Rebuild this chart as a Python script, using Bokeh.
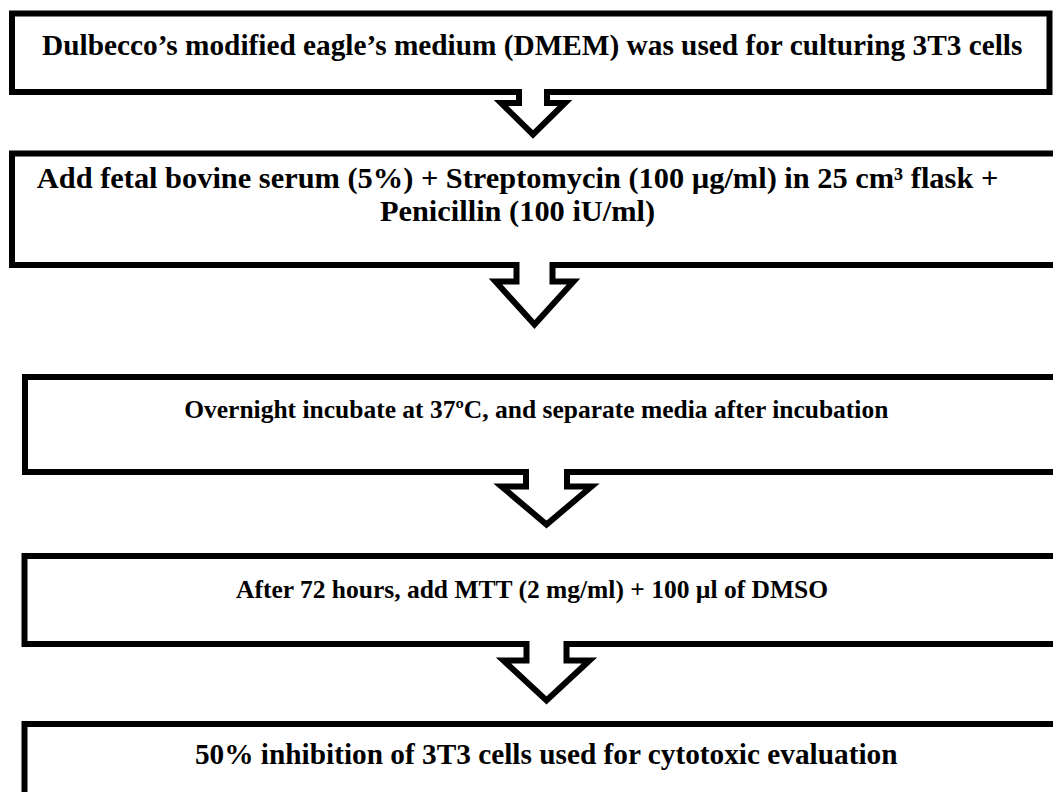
from bokeh.plotting import figure
from bokeh.models import Range1d
from bokeh.core.properties import value
from bokeh.embed import file_html
from bokeh.resources import INLINE

# ---- content ----
steps = [
    ["Dulbecco’s modified eagle’s medium (DMEM) was used for culturing 3T3 cells"],
    ["Add fetal bovine serum (5%) + Streptomycin (100 µg/ml) in 25 cm³ flask +",
     "Penicillin (100 iU/ml)"],
    ["Overnight incubate at 37ºC, and separate media after incubation"],
    ["After 72 hours, add MTT (2 mg/ml) + 100 µl of DMSO"],
    ["50% inhibition of 3T3 cells used for cytotoxic evaluation"],
]

# ---- layout (image-pixel coordinates) ----
box_left = [11.5, 11.5, 24.5, 24.0, 24.0]
box_right = [1049, 1300, 1300, 1300, 1300]
box_top = [13.0, 153.0, 376.5, 555.5, 723.5]
box_bottom = [91.5, 264.5, 471.5, 643.5, 1000]
text_x = [532, 517, 536, 532, 546]
text_y = [[44], [177, 210], [408.5], [588.5], [753]]
text_size = ["29.3px", "30.4px", "25.5px", "25.5px", "29.3px"]

arrow_cx = [532.5, 534.0, 546.0, 546.0]
arrow_sw = [14.0, 18.0, 20.5, 20.0]
arrow_sy = [102.5, 281.0, 486.0, 660.0]
arrow_hw = [32.0, 39.0, 45.0, 43.0]
arrow_ty = [134.0, 324.0, 524.0, 700.0]

FONT = value("'Liberation Serif', 'Times New Roman', 'DejaVu Serif', serif")

W, H = 1053, 792
p = figure(width=W, height=H, output_backend="svg", toolbar_location=None,
           x_range=Range1d(0, W), y_range=Range1d(H, 0),
           min_border=0, outline_line_color=None)
p.axis.visible = False
p.grid.visible = False
p.background_fill_color = "white"
p.border_fill_color = "white"

for i in range(len(steps)):
    L, R, T, B = box_left[i], box_right[i], box_top[i], box_bottom[i]
    if i < len(arrow_cx):
        cx, sw, sy, hw, ty = arrow_cx[i], arrow_sw[i], arrow_sy[i], arrow_hw[i], arrow_ty[i]
        xs = [L, L, R, R, cx + sw, cx + sw, cx + hw, cx, cx - hw, cx - sw, cx - sw]
        ys = [B, T, T, B, B, sy, sy, ty, sy, sy, B]
    else:
        xs = [L, L, R, R]
        ys = [B, T, T, B]
    p.patch(xs, ys, fill_color=None, line_color="black", line_width=6,
            line_join="miter")
    for j, line in enumerate(steps[i]):
        p.text(x=[text_x[i]], y=[text_y[i][j]], text=[line],
               text_font=FONT, text_font_style="bold",
               text_font_size=text_size[i], text_align="center",
               text_baseline="alphabetic", text_color="black")

open("out.html", "w").write(file_html(p, INLINE))
